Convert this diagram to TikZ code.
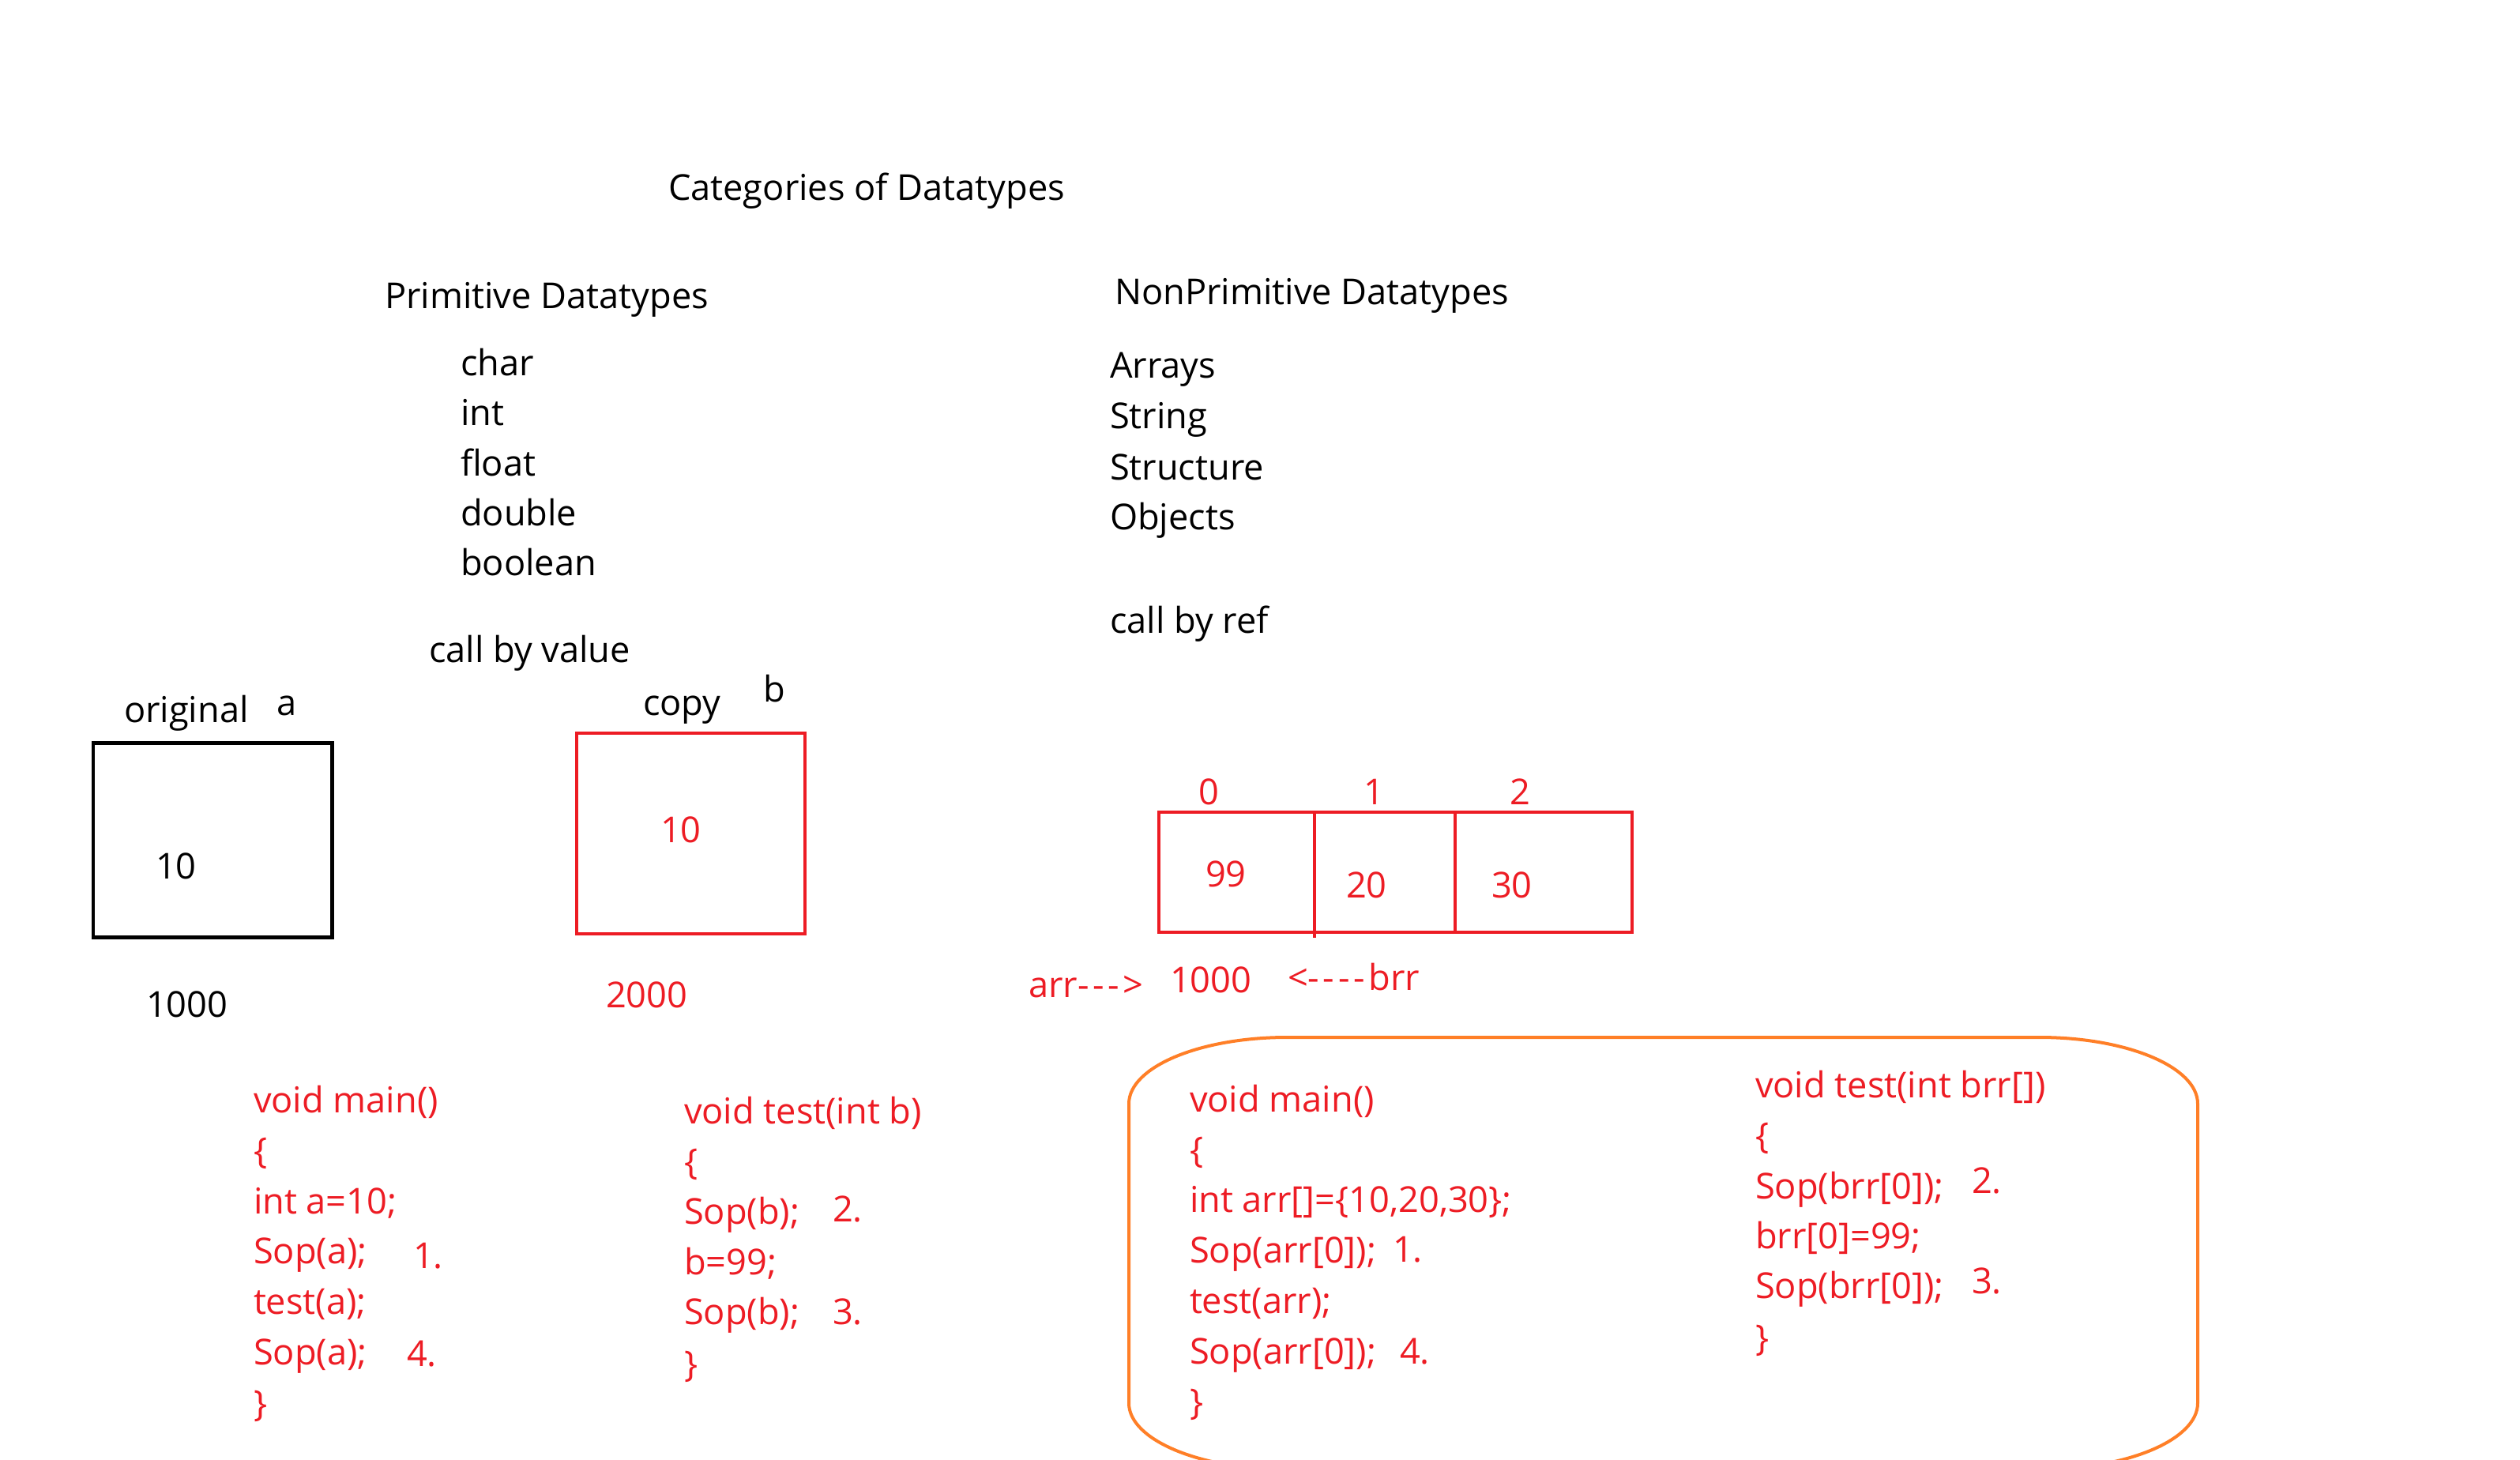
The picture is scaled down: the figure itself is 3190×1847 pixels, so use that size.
\documentclass[tikz,border=0pt]{standalone}
\usepackage{fontspec}
\setmainfont{Open Sans}[Ligatures=TeXOff]
\definecolor{pred}{RGB}{237,28,36}
\definecolor{porange}{RGB}{255,127,39}
\newcommand{\hy}{-\kern1.3pt}
\tikzset{
  txt/.style={inner sep=0pt, outer sep=0pt, anchor=base west, font=\fontsize{12.85}{15}\selectfont},
  rtxt/.style={txt, text=pred},
  ctxt/.style={rtxt, anchor=base},
  blackbox/.style={draw=black, line width=1.42pt},
  redbox/.style={draw=pred, line width=1.14pt},
  orangebox/.style={draw=porange, line width=1.14pt}
}
\begin{document}
\begin{tikzpicture}[x=0.01cm, y=-0.01cm]
\clip (0,0) rectangle (3190,1847);
\fill[white] (0,0) rectangle (3190,1847);

% headings
\node[txt] (title) at (846,253) {Categories of Datatypes};
\node[txt] (prim) at (487,390) {Primitive Datatypes};
\node[txt] (p1) at (583,475) {char};
\node[txt] (p2) at (583,538) {int};
\node[txt] (p3) at (583,602) {float};
\node[txt] (p4) at (583,665) {double};
\node[txt] (p5) at (583,728) {boolean};
\node[txt] (nonprim) at (1411,385) {NonPrimitive Datatypes};
\node[txt] (n1) at (1405,478) {Arrays};
\node[txt] (n2) at (1405,542) {String};
\node[txt] (n3) at (1405,607) {Structure};
\node[txt] (n4) at (1405,670) {Objects};
\node[txt] (cbr) at (1405,801) {call by ref};
\node[txt] (cbv) at (543,838) {call by value};

% call by value boxes
\node[txt] (orig) at (157,914) {original};
\node[txt] (lbla) at (350,905) {a};
\draw[blackbox] (118,940) rectangle (420,1186);
\node[txt] (vala) at (197,1112) {10};
\node[txt] (addra) at (185,1287) {1000};

\node[txt] (copy) at (814,905) {copy};
\node[txt] (lblb) at (966,888) {b};
\draw[redbox] (730,928) rectangle (1019,1182);
\node[rtxt] (valb) at (836,1066) {10};
\node[rtxt] (addrb) at (767,1275) {2000};

% array
\draw[redbox, line width=1.28pt] (1467,1028) rectangle (2066,1180);
\draw[redbox, line width=1.28pt] (1664,1028) -- (1664,1187);
\draw[redbox, line width=1.28pt] (1842,1028) -- (1842,1180);
\node[ctxt] (i0) at (1530,1018) {0};
\node[ctxt] (i1) at (1739,1018) {1};
\node[ctxt] (i2) at (1924,1018) {2};
\node[rtxt] (e0) at (1526,1122) {99};
\node[rtxt] (e1) at (1704,1136) {20};
\node[rtxt] (e2) at (1888,1136) {30};
\node[rtxt] (arrp) at (1302,1262) {arr\hy\hy\hy>};
\node[rtxt] (addrarr) at (1481,1256) {1000};
\node[rtxt] (brrp) at (1630,1253) {<\hy\hy\hy\hy brr};

% left code: main
\node[rtxt] (lm1) at (321,1408) {void main()};
\node[rtxt] (lm2) at (321,1472) {\{};
\node[rtxt] (lm3) at (321,1536) {int a=10;};
\node[rtxt] (lm4) at (321,1599) {Sop(a);};
\node[rtxt] (lm5) at (321,1663) {test(a);};
\node[rtxt] (lm6) at (321,1727) {Sop(a);};
\node[rtxt] (lm7) at (321,1792) {\}};
\node[rtxt] (ln1) at (523,1605) {1.};
\node[rtxt] (ln4) at (515,1729) {4.};

% left code: test
\node[rtxt] (lt1) at (866,1422) {void test(int b)};
\node[rtxt] (lt2) at (866,1486) {\{};
\node[rtxt] (lt3) at (866,1549) {Sop(b);};
\node[rtxt] (lt4) at (866,1613) {b=99;};
\node[rtxt] (lt5) at (866,1676) {Sop(b);};
\node[rtxt] (lt6) at (866,1742) {\}};
\node[rtxt] (ln2) at (1054,1546) {2.};
\node[rtxt] (ln3) at (1054,1676) {3.};

% orange rounded frame
\draw[orangebox] (1629,1313) -- (2582,1313)
  arc[start angle=-90, end angle=0, x radius=200, y radius=84] -- (2782,1776)
  arc[start angle=0, end angle=90, x radius=200, y radius=84] -- (1629,1860)
  arc[start angle=90, end angle=180, x radius=200, y radius=84] -- (1429,1397)
  arc[start angle=180, end angle=270, x radius=200, y radius=84] -- cycle;

% right code: main
\node[rtxt] (rm1) at (1506,1407) {void main()};
\node[rtxt] (rm2) at (1506,1471) {\{};
\node[rtxt] (rm3) at (1506,1534) {int arr[]=\{10,20,30\};};
\node[rtxt] (rm4) at (1506,1598) {Sop(arr[0]);};
\node[rtxt] (rm5) at (1506,1662) {test(arr);};
\node[rtxt] (rm6) at (1506,1726) {Sop(arr[0]);};
\node[rtxt] (rm7) at (1506,1790) {\}};
\node[rtxt] (rn1) at (1763,1597) {1.};
\node[rtxt] (rn4) at (1772,1726) {4.};

% right code: test
\node[rtxt] (rt1) at (2222,1389) {void test(int brr[])};
\node[rtxt] (rt2) at (2222,1453) {\{};
\node[rtxt] (rt3) at (2222,1517) {Sop(brr[0]);};
\node[rtxt] (rt4) at (2222,1580) {brr[0]=99;};
\node[rtxt] (rt5) at (2222,1643) {Sop(brr[0]);};
\node[rtxt] (rt6) at (2222,1709) {\}};
\node[rtxt] (rn2) at (2496,1510) {2.};
\node[rtxt] (rn3) at (2496,1637) {3.};
\end{tikzpicture}
\end{document}
